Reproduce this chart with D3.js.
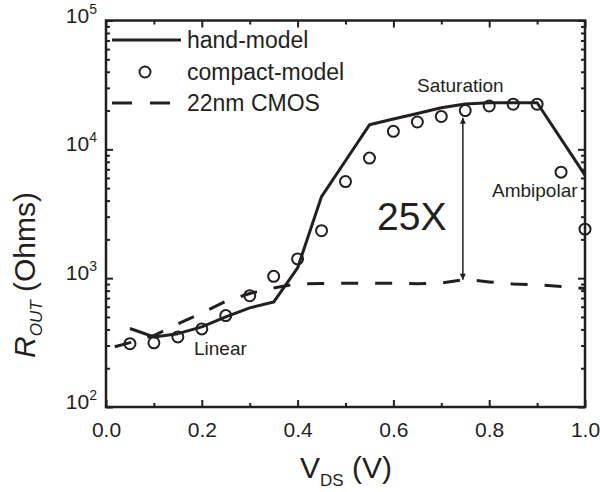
<!DOCTYPE html>
<html>
<head>
<meta charset="utf-8">
<script src="https://cdn.jsdelivr.net/npm/d3@7"></script>
<style>
  body { margin: 0; background: #fff; }
  svg { display: block; font-family: "Liberation Sans", Arial, sans-serif; }
</style>
</head>
<body>
<svg id="chart" width="600" height="492"></svg>
<script>
// values
var handX = [0.05, 0.1, 0.15, 0.2, 0.25, 0.3, 0.35, 0.4, 0.45, 0.5, 0.55, 0.6, 0.65, 0.7, 0.75, 0.8, 0.85, 0.9, 1.0];
var handY = [407, 350, 371, 419, 500, 588, 653, 1200, 4300, 8150, 15500, 17200, 19000, 21000, 22500, 23000, 23000, 23000, 6300];

var compactX = [0.05, 0.1, 0.15, 0.2, 0.25, 0.3, 0.35, 0.4, 0.45, 0.5, 0.55, 0.6, 0.65, 0.7, 0.75, 0.8, 0.85, 0.9, 0.95, 1.0];
var compactY = [310, 315, 350, 404, 512, 731, 1033, 1410, 2335, 5620, 8550, 13800, 16300, 18000, 20000, 21700, 22400, 22400, 6650, 2400];

var cmosX = [0.0, 0.05, 0.1, 0.15, 0.2, 0.25, 0.3, 0.35, 0.4, 0.45, 0.5, 0.55, 0.6, 0.65, 0.7, 0.75, 0.8, 0.85, 0.9, 0.95, 1.0];
var cmosY = [282, 316, 359, 441, 537, 661, 760, 840, 905, 910, 915, 915, 915, 905, 915, 980, 935, 900, 890, 860, 830];

var xMajor = [0, 0.2, 0.4, 0.6, 0.8, 1.0];
var xMinor = [0.1, 0.3, 0.5, 0.7, 0.9];
var yMajor = [1e2, 1e3, 1e4, 1e5];
var yExp = ['2', '3', '4', '5'];

var legendLabels = ['hand-model', 'compact-model', '22nm CMOS'];

var arrowX = 0.745;
var arrowFrom = 17600;
var arrowTo = 970;

const INK = '#231f20';
const svg = d3.select('#chart');

const x = d3.scaleLinear().domain([0, 1]).range([106, 585]);
const y = d3.scaleLog().domain([1e2, 1e5]).range([407, 20.5]);

var yMinor = [];
[1e2, 1e3, 1e4].forEach(d => {
  for (var k = 2; k <= 9; k++) yMinor.push(d * k);
});

// ticks (all pointing inside)
function tickGroup(axis, tx, ty) {
  const g = svg.append('g').attr('transform', `translate(${tx},${ty})`).call(axis);
  g.select('.domain').remove();
  g.selectAll('line').attr('stroke', INK).attr('stroke-width', 2);
  return g;
}

const xb = tickGroup(d3.axisBottom(x).tickValues(xMajor).tickSize(-7).tickPadding(15)
  .tickFormat(d3.format('.1f')), 0, 407);
xb.selectAll('text').attr('font-size', 21).attr('fill', INK).attr('font-family', null);
tickGroup(d3.axisBottom(x).tickValues(xMinor).tickSize(-4).tickFormat(''), 0, 407);
tickGroup(d3.axisTop(x).tickValues(xMajor).tickSize(-7).tickFormat(''), 0, 20.5);
tickGroup(d3.axisTop(x).tickValues(xMinor).tickSize(-4).tickFormat(''), 0, 20.5);

tickGroup(d3.axisLeft(y).tickValues(yMajor).tickSize(-7).tickFormat(''), 106, 0);
tickGroup(d3.axisLeft(y).tickValues(yMinor).tickSize(-4).tickFormat(''), 106, 0);
tickGroup(d3.axisRight(y).tickValues(yMajor).tickSize(-7).tickFormat(''), 585, 0);
tickGroup(d3.axisRight(y).tickValues(yMinor).tickSize(-4).tickFormat(''), 585, 0);

// y labels with superscript
const yl = svg.append('g').selectAll('text')
  .data(yMajor)
  .enter()
  .append('text')
  .attr('x', 97)
  .attr('y', d => y(d) + 2)
  .attr('text-anchor', 'end')
  .attr('fill', INK)
  .attr('font-size', 21);
yl.append('tspan').text('10');
yl.append('tspan').attr('font-size', 14).attr('dy', -9).text((d, i) => yExp[i]);

// frame
svg.append('rect')
  .attr('x', 106).attr('y', 20.5)
  .attr('width', 585 - 106).attr('height', 407 - 20.5)
  .attr('fill', 'none').attr('stroke', INK).attr('stroke-width', 2.5);

// series
const line = d3.line().x(d => x(d[0])).y(d => y(d[1]));

svg.append('path')
  .datum(cmosX.map((d, i) => [d, cmosY[i]]))
  .attr('d', line)
  .attr('fill', 'none').attr('stroke', INK).attr('stroke-width', 3)
  .attr('stroke-dasharray', '17,17').attr('stroke-dashoffset', -9);

svg.append('path')
  .datum(handX.map((d, i) => [d, handY[i]]))
  .attr('d', line)
  .attr('fill', 'none').attr('stroke', INK).attr('stroke-width', 3)
  .attr('stroke-linejoin', 'round');

svg.append('g').selectAll('circle')
  .data(compactX.map((d, i) => [d, compactY[i]]))
  .enter()
  .append('circle')
  .attr('cx', d => x(d[0]))
  .attr('cy', d => y(d[1]))
  .attr('r', 5.5)
  .attr('fill', 'none').attr('stroke', INK).attr('stroke-width', 2);

// 25X arrow
const defs = svg.append('defs');
defs.append('marker')
  .attr('id', 'head')
  .attr('viewBox', '0 0 10 10')
  .attr('refX', 10).attr('refY', 5)
  .attr('markerWidth', 10).attr('markerHeight', 6)
  .attr('markerUnits', 'userSpaceOnUse')
  .attr('orient', 'auto-start-reverse')
  .append('path').attr('d', 'M0,0L10,5L0,10Z').attr('fill', INK);

svg.append('line')
  .attr('x1', x(arrowX)).attr('x2', x(arrowX))
  .attr('y1', y(arrowFrom)).attr('y2', y(arrowTo))
  .attr('stroke', INK).attr('stroke-width', 1.5)
  .attr('marker-start', 'url(#head)').attr('marker-end', 'url(#head)');

// annotations
var notes = [
  { t: 'Saturation', x: 417, y: 92, s: 19 },
  { t: 'Ambipolar', x: 492, y: 197, s: 19 },
  { t: 'Linear', x: 194, y: 355, s: 19 },
  { t: '25X', x: 377, y: 230, s: 39 }
];
svg.append('g').selectAll('text')
  .data(notes)
  .enter()
  .append('text')
  .attr('x', d => d.x).attr('y', d => d.y)
  .attr('font-size', d => d.s)
  .attr('fill', INK)
  .text(d => d.t);

// legend
const lg = svg.append('g');
var rowY = [40, 72, 103];
lg.append('line').attr('x1', 112).attr('x2', 181).attr('y1', rowY[0]).attr('y2', rowY[0])
  .attr('stroke', INK).attr('stroke-width', 3);
lg.append('circle').attr('cx', 145).attr('cy', rowY[1]).attr('r', 5.5)
  .attr('fill', 'none').attr('stroke', INK).attr('stroke-width', 2);
lg.append('line').attr('x1', 112).attr('x2', 171).attr('y1', rowY[2]).attr('y2', rowY[2])
  .attr('stroke', INK).attr('stroke-width', 3).attr('stroke-dasharray', '20,18');
lg.selectAll('text')
  .data(legendLabels)
  .enter()
  .append('text')
  .attr('x', 187)
  .attr('y', (d, i) => rowY[i] + 8)
  .attr('font-size', 23)
  .attr('fill', INK)
  .text(d => d);

// axis titles
const xt = svg.append('text')
  .attr('x', 300).attr('y', 478)
  .attr('font-size', 30).attr('fill', INK);
xt.append('tspan').text('V');
xt.append('tspan').attr('font-size', 17).attr('dy', 8).text('DS');
xt.append('tspan').attr('dy', -8).text(' (V)');

const yt = svg.append('text')
  .attr('transform', 'translate(35,358) rotate(-90)')
  .attr('font-size', 30).attr('fill', INK);
yt.append('tspan').attr('font-style', 'italic').text('R');
yt.append('tspan').attr('font-style', 'italic').attr('font-size', 17).attr('dy', 7).text('OUT');
yt.append('tspan').attr('dy', -7).text(' (Ohms)');
</script>
</body>
</html>
